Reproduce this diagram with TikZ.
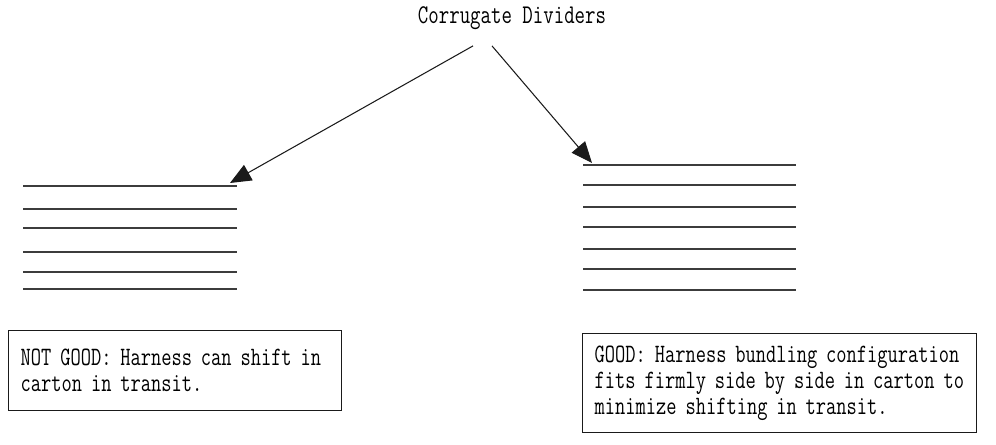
\documentclass[tikz,border=0pt]{standalone}
\usepackage{fontspec}
\setmonofont[FakeStretch=0.75]{Latin Modern Mono}
\usetikzlibrary{arrows.meta, positioning, calc}
\definecolor{cink}{HTML}{1A1A1A}
\definecolor{cline}{HTML}{3C3C3C}
\tikzset{
  every picture/.style={font=\ttfamily, line width=0.6pt},
  divider/.style={draw=cline, line width=1.1pt},
  notebox/.style={draw=cink, line width=0.8pt, anchor=north west, align=left, inner xsep=0.24cm,
    font=\ttfamily\fontsize{15.1}{14.8}\selectfont},
  arrow/.style={-{Triangle[length=12pt, width=10pt]}, draw=cink, line width=0.6pt},
  title/.style={font=\ttfamily\fontsize{15.4}{16}\selectfont},
}

\begin{document}
\begin{tikzpicture}[x=0.02cm, y=-0.02cm]
  \useasboundingbox (0,0) rectangle (996,445);
  \node[title] (title) at (512,18) {Corrugate Dividers};
  % dividers, loose (left) and tight (right)
  \foreach \y in {186, 209, 228, 252, 272, 289} \draw[divider] (23,\y) -- (237,\y);
  \foreach \y in {165, 185, 207, 227, 249, 269, 290} \draw[divider] (583,\y) -- (796,\y);
  \coordinate (ltip) at (230,183);
  \coordinate (rtip) at (592,163);
  \draw[arrow] ($(title.south)+(-39,10)$) -- (ltip);
  \draw[arrow] ($(title.south)+(-20,10)$) -- (rtip);
  \node[notebox, minimum width=6.66cm, minimum height=1.6cm, text width=6.18cm] (bad) at (8,330)
    {NOT GOOD: Harness can shift in\\carton in transit.};
  \node[notebox, minimum width=7.88cm, minimum height=1.98cm, text width=7.4cm] (good) at (582,333)
    {GOOD: Harness bundling configuration\\fits firmly side by side in carton to\\minimize shifting in transit.};
\end{tikzpicture}
\end{document}
